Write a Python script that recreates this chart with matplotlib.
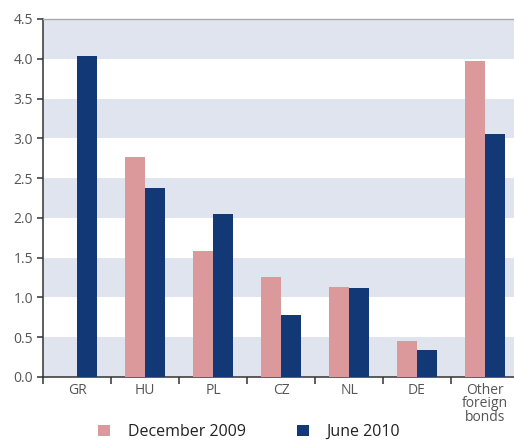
import matplotlib.pyplot as plt
import numpy as np

plt.rcParams['font.family'] = ['Open Sans', 'DejaVu Sans']

categories = ['GR', 'HU', 'PL', 'CZ', 'NL', 'DE', 'Other\nforeign\nbonds']
dec_2009 = [0.0, 2.77, 1.58, 1.26, 1.13, 0.45, 3.97]
jun_2010 = [4.03, 2.37, 2.05, 0.78, 1.12, 0.34, 3.06]

pink = '#dc999c'
navy = '#123876'
band = '#dfe4ee'

W, H = 514, 441
fig = plt.figure(figsize=(W / 100, H / 100), dpi=100)
# axes run slightly past the right edge of the figure
ax = fig.add_axes([43 / W, (H - 377) / H, 476 / W, 358 / H])

x = np.arange(len(categories))
bw = 0.29
ax.bar(x - bw / 2, dec_2009, width=bw, color=pink, zorder=3, label='December 2009')
ax.bar(x + bw / 2, jun_2010, width=bw, color=navy, zorder=3, label='June 2010')

# alternating shaded bands
for lo in np.arange(0, 4.5, 1.0):
    ax.axhspan(lo, lo + 0.5, color=band, zorder=0, lw=0)

ax.set_xlim(-0.5, len(categories) - 0.5)
ax.set_ylim(0, 4.5)
ax.set_yticks(np.arange(0, 4.51, 0.5))
ax.set_yticklabels([f'{v:.1f}' for v in np.arange(0, 4.51, 0.5)])

# category separators as major ticks, labels on minor ticks
ax.set_xticks(np.arange(-0.5, len(categories), 1.0))
ax.set_xticklabels([])
ax.set_xticks(x, minor=True)
ax.set_xticklabels(categories, minor=True, linespacing=0.9)
ax.tick_params(axis='x', which='minor', length=0, pad=4, labelsize=10, labelcolor='#555555')
ax.tick_params(axis='x', which='major', length=5, width=1.1, color='#333333', direction='out')
ax.tick_params(axis='y', length=4, width=1.1, color='#333333', labelsize=10,
               labelcolor='#555555', pad=3)

ax.spines['right'].set_visible(False)
ax.spines['top'].set_color('#aaaaaa')
ax.spines['top'].set_linewidth(1.0)
ax.spines['left'].set_color('#333333')
ax.spines['left'].set_linewidth(1.1)
ax.spines['bottom'].set_color('#333333')
ax.spines['bottom'].set_linewidth(1.1)

handles, labels = ax.get_legend_handles_labels()
fig.legend(handles, labels, loc='center', bbox_to_anchor=(0.485, (H - 432) / H),
           ncol=2, frameon=False, fontsize=11.5, handlelength=0.75, handleheight=0.75,
           columnspacing=3.2, handletextpad=1.1, labelcolor='#222222')

fig.savefig('out.png', dpi=100)
